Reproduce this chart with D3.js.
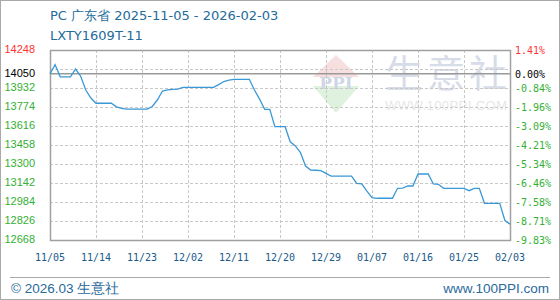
<!DOCTYPE html>
<html>
<head>
<meta charset="utf-8">
<script src="https://cdn.jsdelivr.net/npm/d3@7"></script>
<style>
  body { margin: 0; background: #fff; }
  svg { display: block; }
</style>
</head>
<body>
<svg id="chart"></svg>
<script>
// daily price, 2025-11-05 .. 2026-02-03
const startDate = '2025-11-05';
const prices = [
  14050, 14125, 14025, 14025, 14025, 14090, 14030, 13915, 13849, 13805,
  13805, 13805, 13805, 13775, 13762, 13757, 13757, 13757, 13757, 13757,
  13778, 13832, 13907, 13917, 13920, 13922, 13938, 13938, 13938, 13938,
  13938, 13938, 13938, 13960, 13986, 13998, 14004, 14004, 14004, 14004,
  13915, 13840, 13755, 13755, 13610, 13610, 13610, 13485, 13450, 13395,
  13283, 13250, 13248, 13245, 13222, 13200, 13200, 13200, 13200, 13200,
  13138, 13134, 13075, 13021, 13015, 13015, 13015, 13015, 13098, 13100,
  13117, 13117, 13217, 13217, 13217, 13134, 13131, 13098, 13098, 13098,
  13098, 13098, 13078, 13098, 13098, 12973, 12973, 12973, 12973, 12830,
  12800
];
const baseValue = 14050;
const leftTicks = [14248, 13932, 13774, 13616, 13458, 13300, 13142, 12984, 12826, 12668];
const rightLabels = ['1.41%', '-0.84%', '-1.96%', '-3.09%', '-4.21%', '-5.34%', '-6.46%', '-7.58%', '-8.71%', '-9.83%'];
const gridTicks = [14090, 13932, 13774, 13616, 13458, 13300, 13142, 12984, 12826];
const xTickDates = ['2025-11-05', '2025-11-14', '2025-11-23', '2025-12-02', '2025-12-11', '2025-12-20',
  '2025-12-29', '2026-01-07', '2026-01-16', '2026-01-25', '2026-02-03'];

const W = 560, H = 300;
const plotL = 50, plotR = 510, plotT = 50, plotB = 240;
const parse = d3.timeParse('%Y-%m-%d');
const fmt = d3.timeFormat('%m/%d');
const t0 = parse(startDate);
const data = prices.map((v, i) => ({ date: d3.timeDay.offset(t0, i), value: v }));

const svg = d3.select('#chart').attr('width', W).attr('height', H);

const x = d3.scaleTime().domain([t0, parse(xTickDates[xTickDates.length - 1])]).range([plotL, plotR]);
const y = d3.scaleLinear().domain([12668, 14248]).range([plotB, plotT]);

// outer border
svg.append('rect').attr('x', 0.5).attr('y', 0.5).attr('width', W - 1).attr('height', H - 1)
  .attr('fill', 'none').attr('stroke', '#aaa');

// title
svg.append('text').attr('x', 50).attr('y', 20).attr('fill', '#236b9b')
  .style('font', '13px "DejaVu Sans"').text('PC 广东省 2025-11-05 - 2026-02-03');
svg.append('text').attr('x', 50).attr('y', 40).attr('fill', '#236b9b')
  .style('font', '13px "DejaVu Sans"').text('LXTY1609T-11');

// watermark
const wm = svg.append('g').attr('opacity', 0.55);
wm.append('path').attr('d', 'M313,77 L336,55 L359,77 Z').attr('fill', '#f3c6c6');
wm.append('path').attr('d', 'M313,86 L359,86 L336,113 Z').attr('fill', '#c6e8c8');
wm.append('text').attr('x', 336).attr('y', 89).attr('text-anchor', 'middle').attr('fill', '#a9b6d3')
  .style('font', 'bold 17px "DejaVu Serif"').text('PPI');
wm.append('text').attr('x', 446).attr('y', 87).attr('text-anchor', 'middle').attr('fill', '#b7c1d8')
  .attr('textLength', 122).style('font', '38px "Noto Sans CJK SC"').text('生 意 社');
wm.append('text').attr('x', 446).attr('y', 110).attr('text-anchor', 'middle').attr('fill', '#d2d2d2')
  .attr('textLength', 122).style('font', '13px "Liberation Sans"').text('WWW.100PPI.COM');

// grid
svg.append('g').selectAll('line').data(gridTicks).join('line')
  .attr('x1', plotL).attr('x2', plotR)
  .attr('y1', d => Math.round(y(d)) + 0.5).attr('y2', d => Math.round(y(d)) + 0.5)
  .attr('stroke', '#c8c8c8').attr('stroke-dasharray', '3,2');
svg.append('g').selectAll('line').data(xTickDates.slice(1, -1)).join('line')
  .attr('x1', d => Math.round(x(parse(d))) + 0.5).attr('x2', d => Math.round(x(parse(d))) + 0.5)
  .attr('y1', plotT).attr('y2', plotB)
  .attr('stroke', '#c8c8c8').attr('stroke-dasharray', '3,2');

// base line
svg.append('line').attr('x1', plotL).attr('x2', plotR)
  .attr('y1', y(baseValue)).attr('y2', y(baseValue))
  .attr('stroke', '#999').attr('stroke-width', 1.5);

// frame
svg.append('rect').attr('x', plotL + 0.5).attr('y', plotT + 0.5)
  .attr('width', plotR - plotL).attr('height', plotB - plotT)
  .attr('fill', 'none').attr('stroke', '#a0a0a0').attr('stroke-width', 1.5);

// price line
const line = d3.line().x(d => x(d.date)).y(d => y(d.value));
svg.append('path').datum(data).attr('d', line)
  .attr('fill', 'none').attr('stroke', '#3a98d6').attr('stroke-width', 1.3);

// left labels
const colorFor = (v) => v > baseValue ? '#ff3333' : '#33b033';
svg.append('g').selectAll('text').data(leftTicks).join('text')
  .attr('x', 35).attr('y', d => y(d) + 3).attr('text-anchor', 'end')
  .attr('fill', colorFor).style('font', '11px "Liberation Sans"').text(d => d);
svg.append('text').attr('x', 35).attr('y', y(baseValue) + 3).attr('text-anchor', 'end')
  .attr('fill', '#000').style('font', '11px "Liberation Sans"').text(baseValue);

// right labels
svg.append('g').selectAll('text').data(leftTicks).join('text')
  .attr('x', 515).attr('y', d => y(d) + 4)
  .attr('fill', colorFor).style('font', '10px "DejaVu Sans Mono"').text((d, i) => rightLabels[i]);
svg.append('text').attr('x', 515).attr('y', y(baseValue) + 4)
  .attr('fill', '#000').style('font', '10px "DejaVu Sans Mono"').text('0.00%');

// x labels
svg.append('g').selectAll('text').data(xTickDates).join('text')
  .attr('x', d => x(parse(d))).attr('y', 261).attr('text-anchor', 'middle')
  .attr('fill', '#1a5a8a').style('font', '10px "DejaVu Sans Mono"').text(d => fmt(parse(d)));

// footer
svg.append('line').attr('x1', 10).attr('x2', 550).attr('y1', 277.5).attr('y2', 277.5)
  .attr('stroke', '#aaa');
svg.append('text').attr('x', 11).attr('y', 293).attr('fill', '#2a6a9a')
  .style('font', '13.5px "Liberation Sans"').text('© 2026.03 生意社');
svg.append('text').attr('x', 549).attr('y', 293).attr('text-anchor', 'end').attr('fill', '#2a6a9a')
  .style('font', '13.5px "Liberation Sans"').text('www.100PPI.com');
</script>
</body>
</html>
